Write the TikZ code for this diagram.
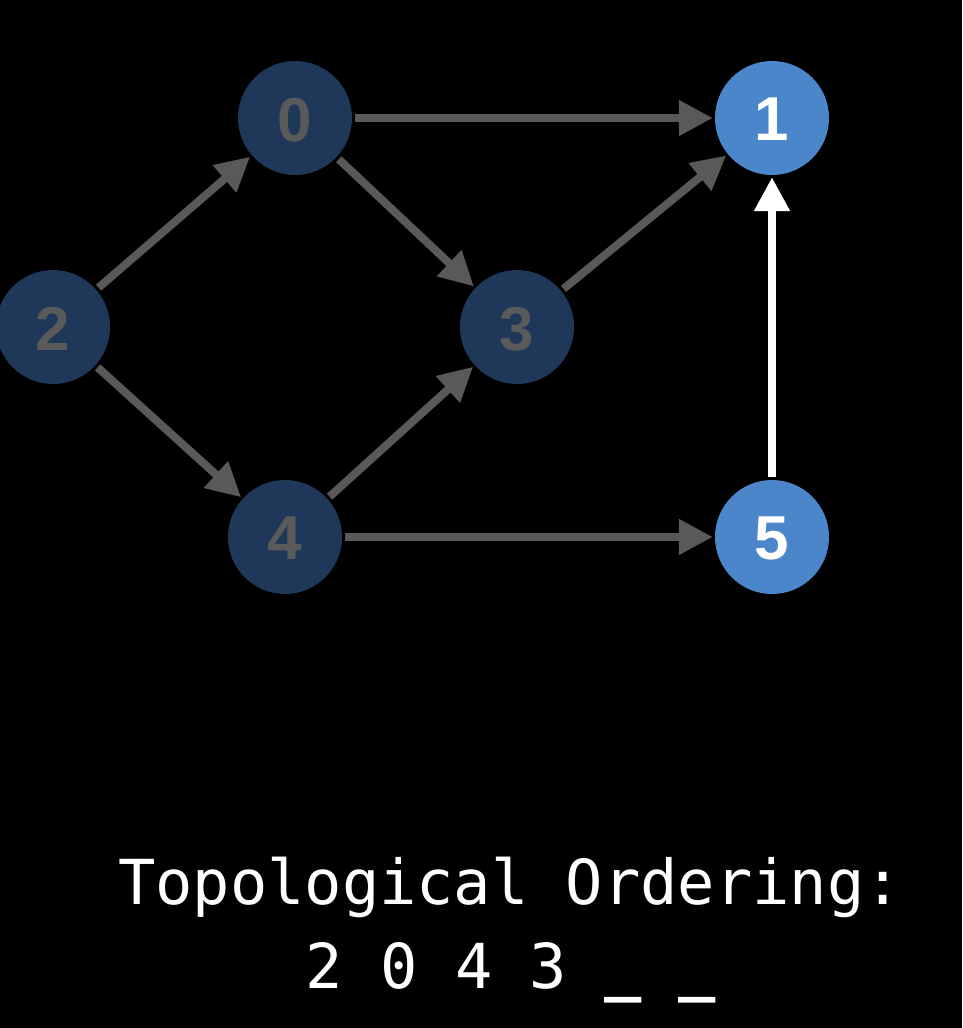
\documentclass[tikz,border=0pt]{standalone}
\usepackage{fontspec}
\setmainfont{Liberation Sans}
\newfontfamily\monofnt{DejaVu Sans Mono}
\usetikzlibrary{arrows.meta}
\definecolor{darknode}{HTML}{1F3859}
\definecolor{bluenode}{HTML}{4A86C9}
\definecolor{edgegray}{HTML}{595959}
\definecolor{dimtext}{HTML}{5A5A5A}
\tikzset{
  vtx/.style={circle, minimum size=114pt, inner sep=0pt, text depth=0pt, font=\fontsize{62}{62}\selectfont\bfseries},
  done/.style={vtx, fill=darknode, text=dimtext},
  todo/.style={vtx, fill=bluenode, text=white},
  edge/.style={draw=edgegray, line width=8pt, -{Triangle[length=34pt,width=34pt]}, shorten <=3pt, shorten >=2pt},
  hot/.style={edge, draw=white},
  lbl/.style={text=white, font=\monofnt\fontsize{62}{62}\selectfont, anchor=base, inner sep=0pt}
}
\newcommand{\dg}[1]{\raisebox{-3pt}{#1}}
\begin{document}
\begin{tikzpicture}[x=1pt,y=-1pt]
\fill[black] (0,0) rectangle (962,1028);
\useasboundingbox (0,0) rectangle (962,1028);
\node[done] (n0) at (295,118) {\dg{0}};
\node[todo] (n1) at (772,118) {\dg{1}};
\node[done] (n2) at (53,327) {\dg{2}};
\node[done] (n3) at (517,327) {\dg{3}};
\node[done] (n4) at (285,537) {\dg{4}};
\node[todo] (n5) at (772,537) {\dg{5}};
\draw[edge] (n0) -- (n1);
\draw[edge] (n0) -- (n3);
\draw[edge] (n2) -- (n0);
\draw[edge] (n2) -- (n4);
\draw[edge] (n4) -- (n3);
\draw[edge] (n3) -- (n1);
\draw[edge] (n4) -- (n5);
\draw[hot] (n5) -- (n1);
\node[lbl] (t1) at (510,904) {Topological Ordering:};
\node[lbl] (t2) at (511,988) {2 0 4 3 {\bfseries\_} {\bfseries\_}};
\end{tikzpicture}
\end{document}
